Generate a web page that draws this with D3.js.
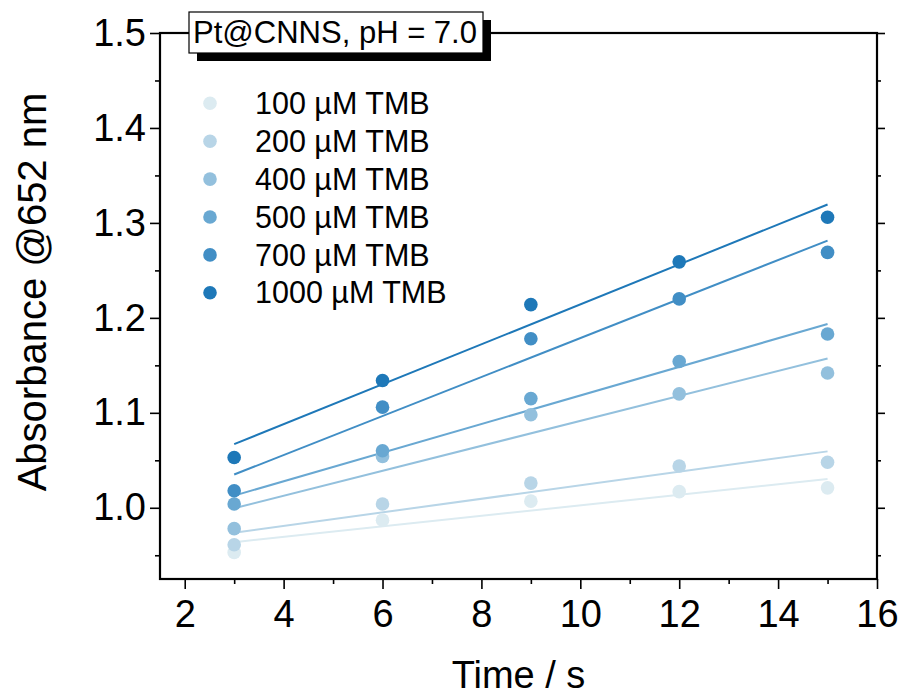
<!DOCTYPE html>
<html>
<head>
<meta charset="utf-8">
<script src="https://cdn.jsdelivr.net/npm/d3@7"></script>
<style>
  body { margin: 0; background: #fff; }
  text { font-family: "Liberation Sans", Arial, sans-serif; }
</style>
</head>
<body>
<div id="chart"></div>
<script>
// reaction times (s)
var times = [3, 6, 9, 12, 15];

// TMB concentrations shown in legend
var series = ["100 µM TMB", "200 µM TMB", "400 µM TMB", "500 µM TMB", "700 µM TMB", "1000 µM TMB"];

// absorbance @652 nm, one array per concentration
var abs100  = [0.953, 0.987, 1.007, 1.017, 1.021];
var abs200  = [0.961, 1.004, 1.026, 1.044, 1.048];
var abs400  = [0.978, 1.054, 1.098, 1.120, 1.142];
var abs500  = [1.004, 1.060, 1.115, 1.154, 1.183];
var abs700  = [1.018, 1.106, 1.178, 1.220, 1.269];
var abs1000 = [1.053, 1.134, 1.214, 1.259, 1.306];

var colors = ["#dcebf1", "#b8d5e7", "#93c0dd", "#69a8d2", "#418ec5", "#1e78b8"];

var xTicks = [2, 4, 6, 8, 10, 12, 14, 16];
var xMinor = [3, 5, 7, 9, 11, 13, 15];
var yTicks = [1.0, 1.1, 1.2, 1.3, 1.4, 1.5];
var yMinor = [0.95, 1.05, 1.15, 1.25, 1.35, 1.45];

var allData = [abs100, abs200, abs400, abs500, abs700, abs1000];

var W = 904, H = 697;
var margin = {top: 33, right: 27, bottom: 118, left: 160},
    width = W - margin.left - margin.right,
    height = H - margin.top - margin.bottom;

var svg = d3.select("#chart").append("svg")
    .attr("width", W)
    .attr("height", H);

var g = svg.append("g")
    .attr("transform", "translate(" + margin.left + "," + margin.top + ")");

var x = d3.scaleLinear().domain([1.5, 16]).range([0, width]);
var y = d3.scaleLinear().domain([0.925, 1.5]).range([height, 0]);

// least squares fit for each series
var fit = function(vals) {
  var mx = d3.mean(times), my = d3.mean(vals);
  var num = d3.sum(times, function(t, i) { return (t - mx) * (vals[i] - my); });
  var den = d3.sum(times, function(t) { return (t - mx) * (t - mx); });
  var b = num / den;
  return function(t) { return my + b * (t - mx); };
};

// fitted lines
allData.forEach(function(vals, k) {
  var f = fit(vals);
  var t0 = d3.min(times), t1 = d3.max(times);
  g.append("line")
    .attr("x1", x(t0)).attr("y1", y(f(t0)))
    .attr("x2", x(t1)).attr("y2", y(f(t1)))
    .style("stroke", colors[k])
    .style("stroke-width", 2);
});

// data points
allData.forEach(function(vals, k) {
  g.selectAll(".pt" + k)
    .data(vals)
    .enter().append("circle")
      .attr("class", "pt" + k)
      .attr("cx", function(d, i) { return x(times[i]); })
      .attr("cy", function(d) { return y(d); })
      .attr("r", 6.8)
      .style("fill", colors[k]);
});

// axes
var styleAxis = function(sel) {
  sel.select(".domain").remove();
  sel.selectAll("line").style("stroke", "#000").style("stroke-width", 1.6);
  sel.selectAll("text").style("font-size", "38px").style("fill", "#000")
    .style("font-family", '"Liberation Sans", Arial, sans-serif');
};

g.append("g")
  .attr("transform", "translate(0," + height + ")")
  .call(d3.axisBottom(x).tickValues(xTicks).tickSize(10).tickPadding(11).tickFormat(d3.format("d")))
  .call(styleAxis);
g.append("g")
  .attr("transform", "translate(0," + height + ")")
  .call(d3.axisBottom(x).tickValues(xMinor).tickSize(5).tickFormat(""))
  .call(styleAxis);

g.append("g")
  .call(d3.axisLeft(y).tickValues(yTicks).tickSize(10).tickPadding(4).tickFormat(d3.format(".1f")))
  .call(styleAxis);
g.append("g")
  .call(d3.axisLeft(y).tickValues(yMinor).tickSize(5).tickFormat(""))
  .call(styleAxis);

// right axis ticks (outward, no labels)
g.append("g")
  .attr("transform", "translate(" + width + ",0)")
  .call(d3.axisRight(y).tickValues(yTicks).tickSize(8).tickFormat(""))
  .call(styleAxis);
g.append("g")
  .attr("transform", "translate(" + width + ",0)")
  .call(d3.axisRight(y).tickValues(yMinor).tickSize(4).tickFormat(""))
  .call(styleAxis);

// frame
g.append("rect")
  .attr("width", width)
  .attr("height", height)
  .style("fill", "none")
  .style("stroke", "#000")
  .style("stroke-width", 2.2);

// axis titles
svg.append("text")
  .attr("x", margin.left + width / 2)
  .attr("y", 688)
  .style("text-anchor", "middle")
  .style("font-size", "38px")
  .text("Time / s");

svg.append("text")
  .attr("transform", "translate(46,292) rotate(-90)")
  .style("text-anchor", "middle")
  .style("font-size", "40px")
  .text("Absorbance @652 nm");

// title box with drop shadow
svg.append("rect")
  .attr("x", 197).attr("y", 20)
  .attr("width", 294).attr("height", 41)
  .style("fill", "#000");
svg.append("rect")
  .attr("x", 189).attr("y", 12)
  .attr("width", 294).attr("height", 41)
  .style("fill", "#fff")
  .style("stroke", "#000")
  .style("stroke-width", 1.2);
svg.append("text")
  .attr("x", 335).attr("y", 43)
  .style("text-anchor", "middle")
  .style("font-size", "31px")
  .text("Pt@CNNS, pH = 7.0");

// legend
var legend = svg.selectAll(".legend")
    .data(series)
  .enter().append("g")
    .attr("class", "legend")
    .attr("transform", function(d, i) { return "translate(210," + (103.3 + i * 37.9) + ")"; });

legend.append("circle")
  .attr("r", 6.8)
  .style("fill", function(d, i) { return colors[i]; });

legend.append("text")
  .attr("x", 45)
  .attr("dy", ".35em")
  .style("font-size", "30.5px")
  .text(function(d) { return d; });
</script>
</body>
</html>
